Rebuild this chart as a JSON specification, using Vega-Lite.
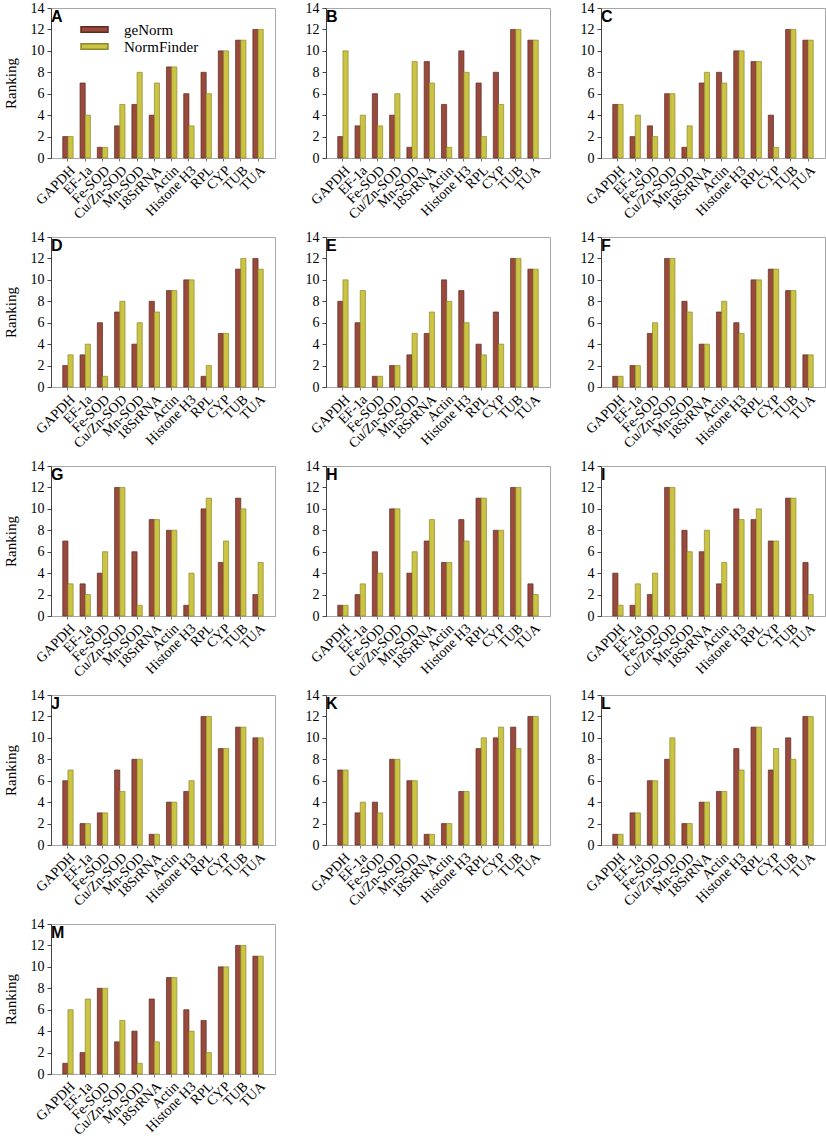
{
  "$schema": "https://vega.github.io/schema/vega-lite/v6.json",
  "background": "white",
  "padding": {"left": 2, "top": 0, "right": 2, "bottom": 2},
  "data": {
    "values": [
      {"panel": "A", "gene": "GAPDH", "method": "geNorm", "rank": 2}, {"panel": "A", "gene": "GAPDH", "method": "NormFinder", "rank": 2},
      {"panel": "A", "gene": "EF-1a", "method": "geNorm", "rank": 7}, {"panel": "A", "gene": "EF-1a", "method": "NormFinder", "rank": 4},
      {"panel": "A", "gene": "Fe-SOD", "method": "geNorm", "rank": 1}, {"panel": "A", "gene": "Fe-SOD", "method": "NormFinder", "rank": 1},
      {"panel": "A", "gene": "Cu/Zn-SOD", "method": "geNorm", "rank": 3}, {"panel": "A", "gene": "Cu/Zn-SOD", "method": "NormFinder", "rank": 5},
      {"panel": "A", "gene": "Mn-SOD", "method": "geNorm", "rank": 5}, {"panel": "A", "gene": "Mn-SOD", "method": "NormFinder", "rank": 8},
      {"panel": "A", "gene": "18SrRNA", "method": "geNorm", "rank": 4}, {"panel": "A", "gene": "18SrRNA", "method": "NormFinder", "rank": 7},
      {"panel": "A", "gene": "Actin", "method": "geNorm", "rank": 8.5}, {"panel": "A", "gene": "Actin", "method": "NormFinder", "rank": 8.5},
      {"panel": "A", "gene": "Histone H3", "method": "geNorm", "rank": 6}, {"panel": "A", "gene": "Histone H3", "method": "NormFinder", "rank": 3},
      {"panel": "A", "gene": "RPL", "method": "geNorm", "rank": 8}, {"panel": "A", "gene": "RPL", "method": "NormFinder", "rank": 6},
      {"panel": "A", "gene": "CYP", "method": "geNorm", "rank": 10}, {"panel": "A", "gene": "CYP", "method": "NormFinder", "rank": 10},
      {"panel": "A", "gene": "TUB", "method": "geNorm", "rank": 11}, {"panel": "A", "gene": "TUB", "method": "NormFinder", "rank": 11},
      {"panel": "A", "gene": "TUA", "method": "geNorm", "rank": 12}, {"panel": "A", "gene": "TUA", "method": "NormFinder", "rank": 12},

      {"panel": "B", "gene": "GAPDH", "method": "geNorm", "rank": 2}, {"panel": "B", "gene": "GAPDH", "method": "NormFinder", "rank": 10},
      {"panel": "B", "gene": "EF-1a", "method": "geNorm", "rank": 3}, {"panel": "B", "gene": "EF-1a", "method": "NormFinder", "rank": 4},
      {"panel": "B", "gene": "Fe-SOD", "method": "geNorm", "rank": 6}, {"panel": "B", "gene": "Fe-SOD", "method": "NormFinder", "rank": 3},
      {"panel": "B", "gene": "Cu/Zn-SOD", "method": "geNorm", "rank": 4}, {"panel": "B", "gene": "Cu/Zn-SOD", "method": "NormFinder", "rank": 6},
      {"panel": "B", "gene": "Mn-SOD", "method": "geNorm", "rank": 1}, {"panel": "B", "gene": "Mn-SOD", "method": "NormFinder", "rank": 9},
      {"panel": "B", "gene": "18SrRNA", "method": "geNorm", "rank": 9}, {"panel": "B", "gene": "18SrRNA", "method": "NormFinder", "rank": 7},
      {"panel": "B", "gene": "Actin", "method": "geNorm", "rank": 5}, {"panel": "B", "gene": "Actin", "method": "NormFinder", "rank": 1},
      {"panel": "B", "gene": "Histone H3", "method": "geNorm", "rank": 10}, {"panel": "B", "gene": "Histone H3", "method": "NormFinder", "rank": 8},
      {"panel": "B", "gene": "RPL", "method": "geNorm", "rank": 7}, {"panel": "B", "gene": "RPL", "method": "NormFinder", "rank": 2},
      {"panel": "B", "gene": "CYP", "method": "geNorm", "rank": 8}, {"panel": "B", "gene": "CYP", "method": "NormFinder", "rank": 5},
      {"panel": "B", "gene": "TUB", "method": "geNorm", "rank": 12}, {"panel": "B", "gene": "TUB", "method": "NormFinder", "rank": 12},
      {"panel": "B", "gene": "TUA", "method": "geNorm", "rank": 11}, {"panel": "B", "gene": "TUA", "method": "NormFinder", "rank": 11},

      {"panel": "C", "gene": "GAPDH", "method": "geNorm", "rank": 5}, {"panel": "C", "gene": "GAPDH", "method": "NormFinder", "rank": 5},
      {"panel": "C", "gene": "EF-1a", "method": "geNorm", "rank": 2}, {"panel": "C", "gene": "EF-1a", "method": "NormFinder", "rank": 4},
      {"panel": "C", "gene": "Fe-SOD", "method": "geNorm", "rank": 3}, {"panel": "C", "gene": "Fe-SOD", "method": "NormFinder", "rank": 2},
      {"panel": "C", "gene": "Cu/Zn-SOD", "method": "geNorm", "rank": 6}, {"panel": "C", "gene": "Cu/Zn-SOD", "method": "NormFinder", "rank": 6},
      {"panel": "C", "gene": "Mn-SOD", "method": "geNorm", "rank": 1}, {"panel": "C", "gene": "Mn-SOD", "method": "NormFinder", "rank": 3},
      {"panel": "C", "gene": "18SrRNA", "method": "geNorm", "rank": 7}, {"panel": "C", "gene": "18SrRNA", "method": "NormFinder", "rank": 8},
      {"panel": "C", "gene": "Actin", "method": "geNorm", "rank": 8}, {"panel": "C", "gene": "Actin", "method": "NormFinder", "rank": 7},
      {"panel": "C", "gene": "Histone H3", "method": "geNorm", "rank": 10}, {"panel": "C", "gene": "Histone H3", "method": "NormFinder", "rank": 10},
      {"panel": "C", "gene": "RPL", "method": "geNorm", "rank": 9}, {"panel": "C", "gene": "RPL", "method": "NormFinder", "rank": 9},
      {"panel": "C", "gene": "CYP", "method": "geNorm", "rank": 4}, {"panel": "C", "gene": "CYP", "method": "NormFinder", "rank": 1},
      {"panel": "C", "gene": "TUB", "method": "geNorm", "rank": 12}, {"panel": "C", "gene": "TUB", "method": "NormFinder", "rank": 12},
      {"panel": "C", "gene": "TUA", "method": "geNorm", "rank": 11}, {"panel": "C", "gene": "TUA", "method": "NormFinder", "rank": 11},

      {"panel": "D", "gene": "GAPDH", "method": "geNorm", "rank": 2}, {"panel": "D", "gene": "GAPDH", "method": "NormFinder", "rank": 3},
      {"panel": "D", "gene": "EF-1a", "method": "geNorm", "rank": 3}, {"panel": "D", "gene": "EF-1a", "method": "NormFinder", "rank": 4},
      {"panel": "D", "gene": "Fe-SOD", "method": "geNorm", "rank": 6}, {"panel": "D", "gene": "Fe-SOD", "method": "NormFinder", "rank": 1},
      {"panel": "D", "gene": "Cu/Zn-SOD", "method": "geNorm", "rank": 7}, {"panel": "D", "gene": "Cu/Zn-SOD", "method": "NormFinder", "rank": 8},
      {"panel": "D", "gene": "Mn-SOD", "method": "geNorm", "rank": 4}, {"panel": "D", "gene": "Mn-SOD", "method": "NormFinder", "rank": 6},
      {"panel": "D", "gene": "18SrRNA", "method": "geNorm", "rank": 8}, {"panel": "D", "gene": "18SrRNA", "method": "NormFinder", "rank": 7},
      {"panel": "D", "gene": "Actin", "method": "geNorm", "rank": 9}, {"panel": "D", "gene": "Actin", "method": "NormFinder", "rank": 9},
      {"panel": "D", "gene": "Histone H3", "method": "geNorm", "rank": 10}, {"panel": "D", "gene": "Histone H3", "method": "NormFinder", "rank": 10},
      {"panel": "D", "gene": "RPL", "method": "geNorm", "rank": 1}, {"panel": "D", "gene": "RPL", "method": "NormFinder", "rank": 2},
      {"panel": "D", "gene": "CYP", "method": "geNorm", "rank": 5}, {"panel": "D", "gene": "CYP", "method": "NormFinder", "rank": 5},
      {"panel": "D", "gene": "TUB", "method": "geNorm", "rank": 11}, {"panel": "D", "gene": "TUB", "method": "NormFinder", "rank": 12},
      {"panel": "D", "gene": "TUA", "method": "geNorm", "rank": 12}, {"panel": "D", "gene": "TUA", "method": "NormFinder", "rank": 11},

      {"panel": "E", "gene": "GAPDH", "method": "geNorm", "rank": 8}, {"panel": "E", "gene": "GAPDH", "method": "NormFinder", "rank": 10},
      {"panel": "E", "gene": "EF-1a", "method": "geNorm", "rank": 6}, {"panel": "E", "gene": "EF-1a", "method": "NormFinder", "rank": 9},
      {"panel": "E", "gene": "Fe-SOD", "method": "geNorm", "rank": 1}, {"panel": "E", "gene": "Fe-SOD", "method": "NormFinder", "rank": 1},
      {"panel": "E", "gene": "Cu/Zn-SOD", "method": "geNorm", "rank": 2}, {"panel": "E", "gene": "Cu/Zn-SOD", "method": "NormFinder", "rank": 2},
      {"panel": "E", "gene": "Mn-SOD", "method": "geNorm", "rank": 3}, {"panel": "E", "gene": "Mn-SOD", "method": "NormFinder", "rank": 5},
      {"panel": "E", "gene": "18SrRNA", "method": "geNorm", "rank": 5}, {"panel": "E", "gene": "18SrRNA", "method": "NormFinder", "rank": 7},
      {"panel": "E", "gene": "Actin", "method": "geNorm", "rank": 10}, {"panel": "E", "gene": "Actin", "method": "NormFinder", "rank": 8},
      {"panel": "E", "gene": "Histone H3", "method": "geNorm", "rank": 9}, {"panel": "E", "gene": "Histone H3", "method": "NormFinder", "rank": 6},
      {"panel": "E", "gene": "RPL", "method": "geNorm", "rank": 4}, {"panel": "E", "gene": "RPL", "method": "NormFinder", "rank": 3},
      {"panel": "E", "gene": "CYP", "method": "geNorm", "rank": 7}, {"panel": "E", "gene": "CYP", "method": "NormFinder", "rank": 4},
      {"panel": "E", "gene": "TUB", "method": "geNorm", "rank": 12}, {"panel": "E", "gene": "TUB", "method": "NormFinder", "rank": 12},
      {"panel": "E", "gene": "TUA", "method": "geNorm", "rank": 11}, {"panel": "E", "gene": "TUA", "method": "NormFinder", "rank": 11},

      {"panel": "F", "gene": "GAPDH", "method": "geNorm", "rank": 1}, {"panel": "F", "gene": "GAPDH", "method": "NormFinder", "rank": 1},
      {"panel": "F", "gene": "EF-1a", "method": "geNorm", "rank": 2}, {"panel": "F", "gene": "EF-1a", "method": "NormFinder", "rank": 2},
      {"panel": "F", "gene": "Fe-SOD", "method": "geNorm", "rank": 5}, {"panel": "F", "gene": "Fe-SOD", "method": "NormFinder", "rank": 6},
      {"panel": "F", "gene": "Cu/Zn-SOD", "method": "geNorm", "rank": 12}, {"panel": "F", "gene": "Cu/Zn-SOD", "method": "NormFinder", "rank": 12},
      {"panel": "F", "gene": "Mn-SOD", "method": "geNorm", "rank": 8}, {"panel": "F", "gene": "Mn-SOD", "method": "NormFinder", "rank": 7},
      {"panel": "F", "gene": "18SrRNA", "method": "geNorm", "rank": 4}, {"panel": "F", "gene": "18SrRNA", "method": "NormFinder", "rank": 4},
      {"panel": "F", "gene": "Actin", "method": "geNorm", "rank": 7}, {"panel": "F", "gene": "Actin", "method": "NormFinder", "rank": 8},
      {"panel": "F", "gene": "Histone H3", "method": "geNorm", "rank": 6}, {"panel": "F", "gene": "Histone H3", "method": "NormFinder", "rank": 5},
      {"panel": "F", "gene": "RPL", "method": "geNorm", "rank": 10}, {"panel": "F", "gene": "RPL", "method": "NormFinder", "rank": 10},
      {"panel": "F", "gene": "CYP", "method": "geNorm", "rank": 11}, {"panel": "F", "gene": "CYP", "method": "NormFinder", "rank": 11},
      {"panel": "F", "gene": "TUB", "method": "geNorm", "rank": 9}, {"panel": "F", "gene": "TUB", "method": "NormFinder", "rank": 9},
      {"panel": "F", "gene": "TUA", "method": "geNorm", "rank": 3}, {"panel": "F", "gene": "TUA", "method": "NormFinder", "rank": 3},

      {"panel": "G", "gene": "GAPDH", "method": "geNorm", "rank": 7}, {"panel": "G", "gene": "GAPDH", "method": "NormFinder", "rank": 3},
      {"panel": "G", "gene": "EF-1a", "method": "geNorm", "rank": 3}, {"panel": "G", "gene": "EF-1a", "method": "NormFinder", "rank": 2},
      {"panel": "G", "gene": "Fe-SOD", "method": "geNorm", "rank": 4}, {"panel": "G", "gene": "Fe-SOD", "method": "NormFinder", "rank": 6},
      {"panel": "G", "gene": "Cu/Zn-SOD", "method": "geNorm", "rank": 12}, {"panel": "G", "gene": "Cu/Zn-SOD", "method": "NormFinder", "rank": 12},
      {"panel": "G", "gene": "Mn-SOD", "method": "geNorm", "rank": 6}, {"panel": "G", "gene": "Mn-SOD", "method": "NormFinder", "rank": 1},
      {"panel": "G", "gene": "18SrRNA", "method": "geNorm", "rank": 9}, {"panel": "G", "gene": "18SrRNA", "method": "NormFinder", "rank": 9},
      {"panel": "G", "gene": "Actin", "method": "geNorm", "rank": 8}, {"panel": "G", "gene": "Actin", "method": "NormFinder", "rank": 8},
      {"panel": "G", "gene": "Histone H3", "method": "geNorm", "rank": 1}, {"panel": "G", "gene": "Histone H3", "method": "NormFinder", "rank": 4},
      {"panel": "G", "gene": "RPL", "method": "geNorm", "rank": 10}, {"panel": "G", "gene": "RPL", "method": "NormFinder", "rank": 11},
      {"panel": "G", "gene": "CYP", "method": "geNorm", "rank": 5}, {"panel": "G", "gene": "CYP", "method": "NormFinder", "rank": 7},
      {"panel": "G", "gene": "TUB", "method": "geNorm", "rank": 11}, {"panel": "G", "gene": "TUB", "method": "NormFinder", "rank": 10},
      {"panel": "G", "gene": "TUA", "method": "geNorm", "rank": 2}, {"panel": "G", "gene": "TUA", "method": "NormFinder", "rank": 5},

      {"panel": "H", "gene": "GAPDH", "method": "geNorm", "rank": 1}, {"panel": "H", "gene": "GAPDH", "method": "NormFinder", "rank": 1},
      {"panel": "H", "gene": "EF-1a", "method": "geNorm", "rank": 2}, {"panel": "H", "gene": "EF-1a", "method": "NormFinder", "rank": 3},
      {"panel": "H", "gene": "Fe-SOD", "method": "geNorm", "rank": 6}, {"panel": "H", "gene": "Fe-SOD", "method": "NormFinder", "rank": 4},
      {"panel": "H", "gene": "Cu/Zn-SOD", "method": "geNorm", "rank": 10}, {"panel": "H", "gene": "Cu/Zn-SOD", "method": "NormFinder", "rank": 10},
      {"panel": "H", "gene": "Mn-SOD", "method": "geNorm", "rank": 4}, {"panel": "H", "gene": "Mn-SOD", "method": "NormFinder", "rank": 6},
      {"panel": "H", "gene": "18SrRNA", "method": "geNorm", "rank": 7}, {"panel": "H", "gene": "18SrRNA", "method": "NormFinder", "rank": 9},
      {"panel": "H", "gene": "Actin", "method": "geNorm", "rank": 5}, {"panel": "H", "gene": "Actin", "method": "NormFinder", "rank": 5},
      {"panel": "H", "gene": "Histone H3", "method": "geNorm", "rank": 9}, {"panel": "H", "gene": "Histone H3", "method": "NormFinder", "rank": 7},
      {"panel": "H", "gene": "RPL", "method": "geNorm", "rank": 11}, {"panel": "H", "gene": "RPL", "method": "NormFinder", "rank": 11},
      {"panel": "H", "gene": "CYP", "method": "geNorm", "rank": 8}, {"panel": "H", "gene": "CYP", "method": "NormFinder", "rank": 8},
      {"panel": "H", "gene": "TUB", "method": "geNorm", "rank": 12}, {"panel": "H", "gene": "TUB", "method": "NormFinder", "rank": 12},
      {"panel": "H", "gene": "TUA", "method": "geNorm", "rank": 3}, {"panel": "H", "gene": "TUA", "method": "NormFinder", "rank": 2},

      {"panel": "I", "gene": "GAPDH", "method": "geNorm", "rank": 4}, {"panel": "I", "gene": "GAPDH", "method": "NormFinder", "rank": 1},
      {"panel": "I", "gene": "EF-1a", "method": "geNorm", "rank": 1}, {"panel": "I", "gene": "EF-1a", "method": "NormFinder", "rank": 3},
      {"panel": "I", "gene": "Fe-SOD", "method": "geNorm", "rank": 2}, {"panel": "I", "gene": "Fe-SOD", "method": "NormFinder", "rank": 4},
      {"panel": "I", "gene": "Cu/Zn-SOD", "method": "geNorm", "rank": 12}, {"panel": "I", "gene": "Cu/Zn-SOD", "method": "NormFinder", "rank": 12},
      {"panel": "I", "gene": "Mn-SOD", "method": "geNorm", "rank": 8}, {"panel": "I", "gene": "Mn-SOD", "method": "NormFinder", "rank": 6},
      {"panel": "I", "gene": "18SrRNA", "method": "geNorm", "rank": 6}, {"panel": "I", "gene": "18SrRNA", "method": "NormFinder", "rank": 8},
      {"panel": "I", "gene": "Actin", "method": "geNorm", "rank": 3}, {"panel": "I", "gene": "Actin", "method": "NormFinder", "rank": 5},
      {"panel": "I", "gene": "Histone H3", "method": "geNorm", "rank": 10}, {"panel": "I", "gene": "Histone H3", "method": "NormFinder", "rank": 9},
      {"panel": "I", "gene": "RPL", "method": "geNorm", "rank": 9}, {"panel": "I", "gene": "RPL", "method": "NormFinder", "rank": 10},
      {"panel": "I", "gene": "CYP", "method": "geNorm", "rank": 7}, {"panel": "I", "gene": "CYP", "method": "NormFinder", "rank": 7},
      {"panel": "I", "gene": "TUB", "method": "geNorm", "rank": 11}, {"panel": "I", "gene": "TUB", "method": "NormFinder", "rank": 11},
      {"panel": "I", "gene": "TUA", "method": "geNorm", "rank": 5}, {"panel": "I", "gene": "TUA", "method": "NormFinder", "rank": 2},

      {"panel": "J", "gene": "GAPDH", "method": "geNorm", "rank": 6}, {"panel": "J", "gene": "GAPDH", "method": "NormFinder", "rank": 7},
      {"panel": "J", "gene": "EF-1a", "method": "geNorm", "rank": 2}, {"panel": "J", "gene": "EF-1a", "method": "NormFinder", "rank": 2},
      {"panel": "J", "gene": "Fe-SOD", "method": "geNorm", "rank": 3}, {"panel": "J", "gene": "Fe-SOD", "method": "NormFinder", "rank": 3},
      {"panel": "J", "gene": "Cu/Zn-SOD", "method": "geNorm", "rank": 7}, {"panel": "J", "gene": "Cu/Zn-SOD", "method": "NormFinder", "rank": 5},
      {"panel": "J", "gene": "Mn-SOD", "method": "geNorm", "rank": 8}, {"panel": "J", "gene": "Mn-SOD", "method": "NormFinder", "rank": 8},
      {"panel": "J", "gene": "18SrRNA", "method": "geNorm", "rank": 1}, {"panel": "J", "gene": "18SrRNA", "method": "NormFinder", "rank": 1},
      {"panel": "J", "gene": "Actin", "method": "geNorm", "rank": 4}, {"panel": "J", "gene": "Actin", "method": "NormFinder", "rank": 4},
      {"panel": "J", "gene": "Histone H3", "method": "geNorm", "rank": 5}, {"panel": "J", "gene": "Histone H3", "method": "NormFinder", "rank": 6},
      {"panel": "J", "gene": "RPL", "method": "geNorm", "rank": 12}, {"panel": "J", "gene": "RPL", "method": "NormFinder", "rank": 12},
      {"panel": "J", "gene": "CYP", "method": "geNorm", "rank": 9}, {"panel": "J", "gene": "CYP", "method": "NormFinder", "rank": 9},
      {"panel": "J", "gene": "TUB", "method": "geNorm", "rank": 11}, {"panel": "J", "gene": "TUB", "method": "NormFinder", "rank": 11},
      {"panel": "J", "gene": "TUA", "method": "geNorm", "rank": 10}, {"panel": "J", "gene": "TUA", "method": "NormFinder", "rank": 10},

      {"panel": "K", "gene": "GAPDH", "method": "geNorm", "rank": 7}, {"panel": "K", "gene": "GAPDH", "method": "NormFinder", "rank": 7},
      {"panel": "K", "gene": "EF-1a", "method": "geNorm", "rank": 3}, {"panel": "K", "gene": "EF-1a", "method": "NormFinder", "rank": 4},
      {"panel": "K", "gene": "Fe-SOD", "method": "geNorm", "rank": 4}, {"panel": "K", "gene": "Fe-SOD", "method": "NormFinder", "rank": 3},
      {"panel": "K", "gene": "Cu/Zn-SOD", "method": "geNorm", "rank": 8}, {"panel": "K", "gene": "Cu/Zn-SOD", "method": "NormFinder", "rank": 8},
      {"panel": "K", "gene": "Mn-SOD", "method": "geNorm", "rank": 6}, {"panel": "K", "gene": "Mn-SOD", "method": "NormFinder", "rank": 6},
      {"panel": "K", "gene": "18SrRNA", "method": "geNorm", "rank": 1}, {"panel": "K", "gene": "18SrRNA", "method": "NormFinder", "rank": 1},
      {"panel": "K", "gene": "Actin", "method": "geNorm", "rank": 2}, {"panel": "K", "gene": "Actin", "method": "NormFinder", "rank": 2},
      {"panel": "K", "gene": "Histone H3", "method": "geNorm", "rank": 5}, {"panel": "K", "gene": "Histone H3", "method": "NormFinder", "rank": 5},
      {"panel": "K", "gene": "RPL", "method": "geNorm", "rank": 9}, {"panel": "K", "gene": "RPL", "method": "NormFinder", "rank": 10},
      {"panel": "K", "gene": "CYP", "method": "geNorm", "rank": 10}, {"panel": "K", "gene": "CYP", "method": "NormFinder", "rank": 11},
      {"panel": "K", "gene": "TUB", "method": "geNorm", "rank": 11}, {"panel": "K", "gene": "TUB", "method": "NormFinder", "rank": 9},
      {"panel": "K", "gene": "TUA", "method": "geNorm", "rank": 12}, {"panel": "K", "gene": "TUA", "method": "NormFinder", "rank": 12},

      {"panel": "L", "gene": "GAPDH", "method": "geNorm", "rank": 1}, {"panel": "L", "gene": "GAPDH", "method": "NormFinder", "rank": 1},
      {"panel": "L", "gene": "EF-1a", "method": "geNorm", "rank": 3}, {"panel": "L", "gene": "EF-1a", "method": "NormFinder", "rank": 3},
      {"panel": "L", "gene": "Fe-SOD", "method": "geNorm", "rank": 6}, {"panel": "L", "gene": "Fe-SOD", "method": "NormFinder", "rank": 6},
      {"panel": "L", "gene": "Cu/Zn-SOD", "method": "geNorm", "rank": 8}, {"panel": "L", "gene": "Cu/Zn-SOD", "method": "NormFinder", "rank": 10},
      {"panel": "L", "gene": "Mn-SOD", "method": "geNorm", "rank": 2}, {"panel": "L", "gene": "Mn-SOD", "method": "NormFinder", "rank": 2},
      {"panel": "L", "gene": "18SrRNA", "method": "geNorm", "rank": 4}, {"panel": "L", "gene": "18SrRNA", "method": "NormFinder", "rank": 4},
      {"panel": "L", "gene": "Actin", "method": "geNorm", "rank": 5}, {"panel": "L", "gene": "Actin", "method": "NormFinder", "rank": 5},
      {"panel": "L", "gene": "Histone H3", "method": "geNorm", "rank": 9}, {"panel": "L", "gene": "Histone H3", "method": "NormFinder", "rank": 7},
      {"panel": "L", "gene": "RPL", "method": "geNorm", "rank": 11}, {"panel": "L", "gene": "RPL", "method": "NormFinder", "rank": 11},
      {"panel": "L", "gene": "CYP", "method": "geNorm", "rank": 7}, {"panel": "L", "gene": "CYP", "method": "NormFinder", "rank": 9},
      {"panel": "L", "gene": "TUB", "method": "geNorm", "rank": 10}, {"panel": "L", "gene": "TUB", "method": "NormFinder", "rank": 8},
      {"panel": "L", "gene": "TUA", "method": "geNorm", "rank": 12}, {"panel": "L", "gene": "TUA", "method": "NormFinder", "rank": 12},

      {"panel": "M", "gene": "GAPDH", "method": "geNorm", "rank": 1}, {"panel": "M", "gene": "GAPDH", "method": "NormFinder", "rank": 6},
      {"panel": "M", "gene": "EF-1a", "method": "geNorm", "rank": 2}, {"panel": "M", "gene": "EF-1a", "method": "NormFinder", "rank": 7},
      {"panel": "M", "gene": "Fe-SOD", "method": "geNorm", "rank": 8}, {"panel": "M", "gene": "Fe-SOD", "method": "NormFinder", "rank": 8},
      {"panel": "M", "gene": "Cu/Zn-SOD", "method": "geNorm", "rank": 3}, {"panel": "M", "gene": "Cu/Zn-SOD", "method": "NormFinder", "rank": 5},
      {"panel": "M", "gene": "Mn-SOD", "method": "geNorm", "rank": 4}, {"panel": "M", "gene": "Mn-SOD", "method": "NormFinder", "rank": 1},
      {"panel": "M", "gene": "18SrRNA", "method": "geNorm", "rank": 7}, {"panel": "M", "gene": "18SrRNA", "method": "NormFinder", "rank": 3},
      {"panel": "M", "gene": "Actin", "method": "geNorm", "rank": 9}, {"panel": "M", "gene": "Actin", "method": "NormFinder", "rank": 9},
      {"panel": "M", "gene": "Histone H3", "method": "geNorm", "rank": 6}, {"panel": "M", "gene": "Histone H3", "method": "NormFinder", "rank": 4},
      {"panel": "M", "gene": "RPL", "method": "geNorm", "rank": 5}, {"panel": "M", "gene": "RPL", "method": "NormFinder", "rank": 2},
      {"panel": "M", "gene": "CYP", "method": "geNorm", "rank": 10}, {"panel": "M", "gene": "CYP", "method": "NormFinder", "rank": 10},
      {"panel": "M", "gene": "TUB", "method": "geNorm", "rank": 12}, {"panel": "M", "gene": "TUB", "method": "NormFinder", "rank": 12},
      {"panel": "M", "gene": "TUA", "method": "geNorm", "rank": 11}, {"panel": "M", "gene": "TUA", "method": "NormFinder", "rank": 11}
    ]
  },
  "hconcat": [
    {
      "transform": [{"filter": {"field": "panel", "oneOf": ["A", "D", "G", "J", "M"]}}],
      "facet": {"row": {"field": "panel", "type": "nominal", "header": {"title": null, "labels": false}}},
      "spacing": 79,
      "bounds": "flush",
      "resolve": {"axis": {"x": "independent", "y": "independent"}},
      "spec": {
        "width": 224,
        "height": 150,
        "layer": [
          {
            "mark": {"type": "bar", "strokeWidth": 0.7},
            "encoding": {
              "x": {"field": "gene", "type": "nominal", "title": null,
                "sort": ["GAPDH", "EF-1a", "Fe-SOD", "Cu/Zn-SOD", "Mn-SOD", "18SrRNA", "Actin", "Histone H3", "RPL", "CYP", "TUB", "TUA"],
                "scale": {"paddingInner": 0.4, "paddingOuter": 0.68}},
              "xOffset": {"field": "method", "type": "nominal", "sort": ["geNorm", "NormFinder"]},
              "y": {"field": "rank", "type": "quantitative", "title": "Ranking",
                "scale": {"domain": [0, 14], "nice": false}, "axis": {"values": [0, 2, 4, 6, 8, 10, 12, 14], "labelOverlap": false}},
              "color": {"field": "method", "type": "nominal",
                "scale": {"domain": ["geNorm", "NormFinder"], "range": ["#9a4a3c", "#cbc343"]},
                "legend": {"orient": "none", "legendX": 36, "legendY": 14, "title": null,
                  "symbolType": "M-2,-0.4H2V0.4H-2Z", "symbolSize": 182, "labelFont": "Liberation Serif",
                  "labelFontSize": 15, "labelOffset": 22, "rowPadding": 1, "labelColor": "black"}},
              "stroke": {"field": "method", "type": "nominal",
                "scale": {"domain": ["geNorm", "NormFinder"], "range": ["#5c2a1f", "#8d8a2c"]}, "legend": null}
            }
          },
          {
            "transform": [{"filter": "datum.gene == 'GAPDH' && datum.method == 'geNorm'"}],
            "mark": {"type": "text", "align": "left", "baseline": "middle", "dx": -17, "font": "Liberation Sans", "fontWeight": "bold", "fontSize": 16, "color": "black"},
            "encoding": {
              "x": {"datum": "GAPDH", "type": "nominal"},
              "y": {"datum": 13.2, "type": "quantitative", "title": "Ranking",
                "axis": {"values": [0, 2, 4, 6, 8, 10, 12, 14], "labelOverlap": false}},
              "text": {"field": "panel"}
            }
          }
        ]
      }
    },
    {
      "transform": [{"filter": {"field": "panel", "oneOf": ["B", "E", "H", "K"]}}],
      "facet": {"row": {"field": "panel", "type": "nominal", "header": {"title": null, "labels": false}}},
      "spacing": 79,
      "bounds": "flush",
      "resolve": {"axis": {"x": "independent", "y": "independent"}},
      "spec": {
        "width": 224,
        "height": 150,
        "layer": [
          {
            "mark": {"type": "bar", "strokeWidth": 0.7},
            "encoding": {
              "x": {"field": "gene", "type": "nominal", "title": null,
                "sort": ["GAPDH", "EF-1a", "Fe-SOD", "Cu/Zn-SOD", "Mn-SOD", "18SrRNA", "Actin", "Histone H3", "RPL", "CYP", "TUB", "TUA"],
                "scale": {"paddingInner": 0.4, "paddingOuter": 0.68}},
              "xOffset": {"field": "method", "type": "nominal", "sort": ["geNorm", "NormFinder"]},
              "y": {"field": "rank", "type": "quantitative", "title": null,
                "scale": {"domain": [0, 14], "nice": false}, "axis": {"values": [0, 2, 4, 6, 8, 10, 12, 14], "labelOverlap": false}},
              "color": {"field": "method", "type": "nominal",
                "scale": {"domain": ["geNorm", "NormFinder"], "range": ["#9a4a3c", "#cbc343"]}},
              "stroke": {"field": "method", "type": "nominal",
                "scale": {"domain": ["geNorm", "NormFinder"], "range": ["#5c2a1f", "#8d8a2c"]}, "legend": null}
            }
          },
          {
            "transform": [{"filter": "datum.gene == 'GAPDH' && datum.method == 'geNorm'"}],
            "mark": {"type": "text", "align": "left", "baseline": "middle", "dx": -17, "font": "Liberation Sans", "fontWeight": "bold", "fontSize": 16, "color": "black"},
            "encoding": {
              "x": {"datum": "GAPDH", "type": "nominal"},
              "y": {"datum": 13.2, "type": "quantitative", "title": null,
                "axis": {"values": [0, 2, 4, 6, 8, 10, 12, 14], "labelOverlap": false}},
              "text": {"field": "panel"}
            }
          }
        ]
      }
    },
    {
      "transform": [{"filter": {"field": "panel", "oneOf": ["C", "F", "I", "L"]}}],
      "facet": {"row": {"field": "panel", "type": "nominal", "header": {"title": null, "labels": false}}},
      "spacing": 79,
      "bounds": "flush",
      "resolve": {"axis": {"x": "independent", "y": "independent"}},
      "spec": {
        "width": 224,
        "height": 150,
        "layer": [
          {
            "mark": {"type": "bar", "strokeWidth": 0.7},
            "encoding": {
              "x": {"field": "gene", "type": "nominal", "title": null,
                "sort": ["GAPDH", "EF-1a", "Fe-SOD", "Cu/Zn-SOD", "Mn-SOD", "18SrRNA", "Actin", "Histone H3", "RPL", "CYP", "TUB", "TUA"],
                "scale": {"paddingInner": 0.4, "paddingOuter": 0.68}},
              "xOffset": {"field": "method", "type": "nominal", "sort": ["geNorm", "NormFinder"]},
              "y": {"field": "rank", "type": "quantitative", "title": null,
                "scale": {"domain": [0, 14], "nice": false}, "axis": {"values": [0, 2, 4, 6, 8, 10, 12, 14], "labelOverlap": false}},
              "color": {"field": "method", "type": "nominal",
                "scale": {"domain": ["geNorm", "NormFinder"], "range": ["#9a4a3c", "#cbc343"]}},
              "stroke": {"field": "method", "type": "nominal",
                "scale": {"domain": ["geNorm", "NormFinder"], "range": ["#5c2a1f", "#8d8a2c"]}, "legend": null}
            }
          },
          {
            "transform": [{"filter": "datum.gene == 'GAPDH' && datum.method == 'geNorm'"}],
            "mark": {"type": "text", "align": "left", "baseline": "middle", "dx": -17, "font": "Liberation Sans", "fontWeight": "bold", "fontSize": 16, "color": "black"},
            "encoding": {
              "x": {"datum": "GAPDH", "type": "nominal"},
              "y": {"datum": 13.2, "type": "quantitative", "title": null,
                "axis": {"values": [0, 2, 4, 6, 8, 10, 12, 14], "labelOverlap": false}},
              "text": {"field": "panel"}
            }
          }
        ]
      }
    }
  ],
  "spacing": 28,
  "config": {
    "view": {"stroke": "#a8a8a8", "strokeWidth": 1},
    "axis": {"labelFont": "Liberation Serif", "titleFont": "Liberation Serif", "labelColor": "black", "titleColor": "black", "grid": false},
    "axisX": {"labelAngle": -45, "labelAlign": "right", "labelBaseline": "top", "labelFontSize": 14, "labelPadding": 2, "tickSize": 3, "domainColor": "#a8a8a8", "tickColor": "#777777"},
    "axisY": {"labelFontSize": 14, "titleFontSize": 15, "titleFontWeight": "normal", "titlePadding": 12, "tickSize": 4, "labelPadding": 3, "domainColor": "#444444", "tickColor": "#444444"}
  }
}
